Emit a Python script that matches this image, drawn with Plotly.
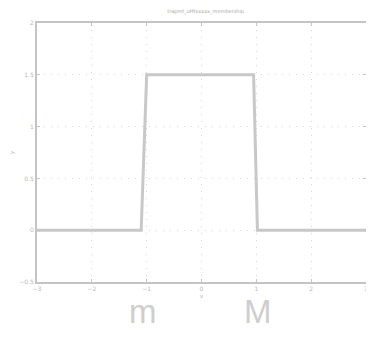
import plotly.graph_objects as go

x_vals = [-3, -1.1, -1.0, 0.95, 1.02, 3]
y_vals = [0, 0, 1.5, 1.5, 0, 0]
x_ticks = [-3, -2, -1, 0, 1, 2, 3]
y_ticks = [-0.5, 0, 0.5, 1, 1.5, 2]
annot_labels = ["m", "M"]
annot_x = [-1.06, 1.03]

fig = go.Figure()
fig.add_trace(go.Scatter(x=x_vals, y=y_vals, mode="lines",
                         line=dict(color="#c8c8c8", width=3), showlegend=False))

for lab, ax in zip(annot_labels, annot_x):
    fig.add_annotation(x=ax, y=-0.5, xref="x", yref="y", yshift=-29, text=lab,
                       showarrow=False, font=dict(size=33, color="#cecece", family="Liberation Sans"))

axis_common = dict(showline=True, linecolor="#c4c4c4", linewidth=2, mirror="ticks",
                   showgrid=True, gridcolor="#d6d6d6", griddash="1px,6px", gridwidth=1,
                   ticks="inside", ticklen=3, tickcolor="#c4c4c4", zeroline=False,
                   automargin=False,
                   tickfont=dict(size=6, color="#b8b8b8", family="DejaVu Sans"))

fig.update_layout(
    width=366, height=330,
    margin=dict(l=29, r=8, t=15, b=56),
    paper_bgcolor="white", plot_bgcolor="white",
    title=dict(text="trapmf_uHfxxxxx_membership", x=0.54, y=0.995, xanchor="center", yanchor="top",
               font=dict(size=5, color="#a8a8a8", family="DejaVu Sans")),
    xaxis=dict(range=[-3, 3], tickvals=x_ticks, title=dict(text="x", standoff=2,
               font=dict(size=6, color="#b0b0b0")), **axis_common),
    yaxis=dict(range=[-0.5, 2], tickvals=y_ticks, title=dict(text="y", standoff=10,
               font=dict(size=6, color="#b0b0b0")), **axis_common),
)

fig.write_html("out.html")
